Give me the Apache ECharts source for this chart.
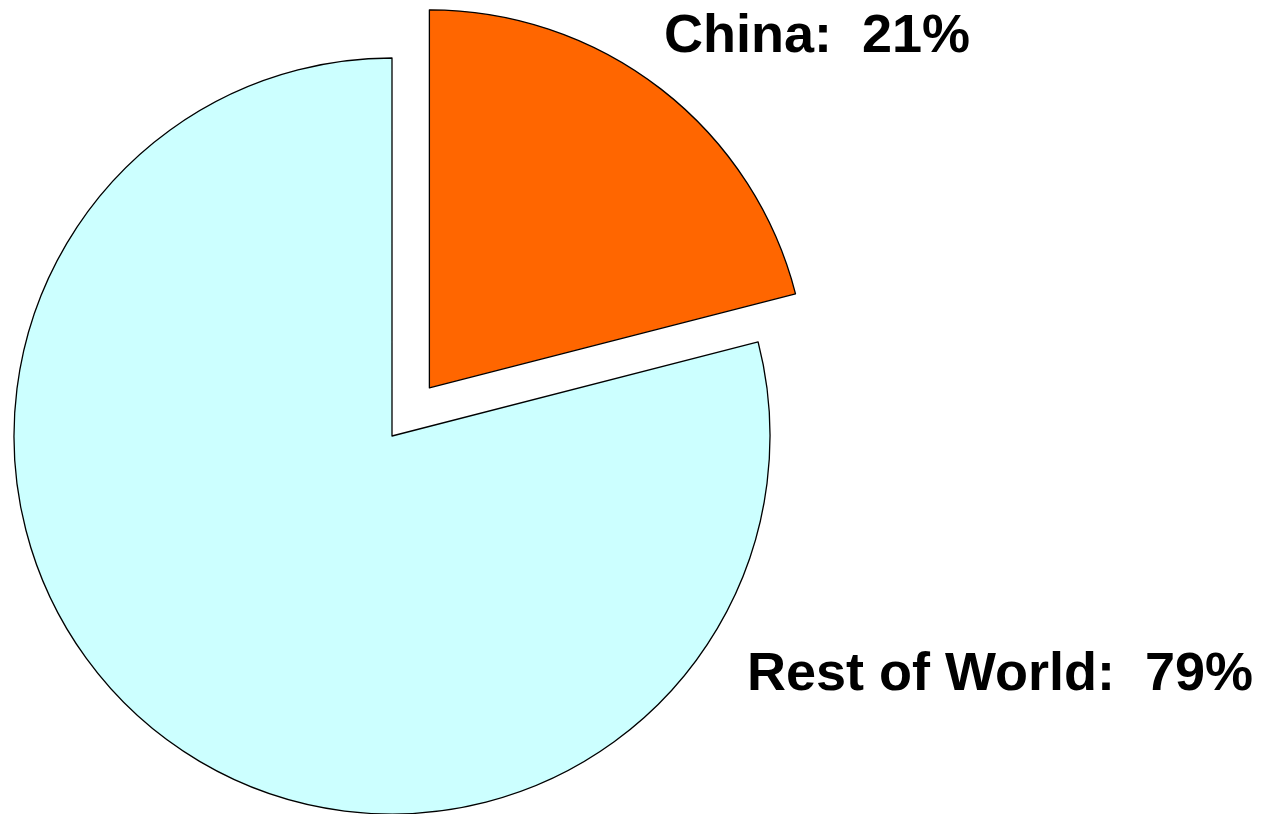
<!DOCTYPE html>
<html>
<head>
<meta charset="utf-8">
<style>
  html, body { margin: 0; padding: 0; background: #fff; }
  #chart { width: 1262px; height: 814px; }
</style>
<script src="https://cdn.jsdelivr.net/npm/echarts@6/dist/echarts.min.js"></script>
</head>
<body>
<div id="chart"></div>
<script>
  // data
  var names = ['China', 'Rest of World'];
  var shares = [21, 79];
  var colors = ['#FF6600', '#CCFFFF'];
  var explodedIndex = 0;

  var myChart = echarts.init(document.getElementById('chart'));

  var cx = 392, cy = 436, R = 378, pull = 61;
  // label anchor points (left/middle)
  var labelPos = [[664, 37], [747, 675]];

  // direction of the exploded slice bisector (from 12 o'clock, clockwise)
  var before = 0;
  for (var k = 0; k < explodedIndex; k++) before += shares[k];
  var total = shares.reduce(function (a, b) { return a + b; }, 0);
  var mid = (before + shares[explodedIndex] / 2) / total * 2 * Math.PI;
  var dx = pull * Math.sin(mid), dy = -pull * Math.cos(mid);

  function buildSeries(show, center) {
    return {
      type: 'pie',
      center: center,
      radius: R,
      startAngle: 90,
      clockwise: true,
      silent: true,
      avoidLabelOverlap: false,
      label: {
        position: 'outside',
        formatter: '{b}:  {c}%',
        color: '#000',
        fontFamily: 'Liberation Sans, Arial, sans-serif',
        fontWeight: 'bold',
        fontSize: 54
      },
      labelLine: { show: false },
      labelLayout: function (p) {
        return {
          x: labelPos[p.dataIndex][0],
          y: labelPos[p.dataIndex][1],
          align: 'left',
          verticalAlign: 'middle'
        };
      },
      emphasis: { disabled: true, scale: false },
      data: names.map(function (n, i) {
        var on = show(i);
        return {
          name: n,
          value: shares[i],
          label: { show: on },
          itemStyle: on
            ? { color: colors[i], borderColor: '#000', borderWidth: 1.3 }
            : { color: 'rgba(0,0,0,0)', borderWidth: 0 }
        };
      })
    };
  }

  var option = {
    animation: false,
    series: [
      buildSeries(function (i) { return i !== explodedIndex; }, [cx, cy]),
      buildSeries(function (i) { return i === explodedIndex; }, [cx + dx, cy + dy])
    ]
  };
  myChart.setOption(option);
</script>
</body>
</html>
